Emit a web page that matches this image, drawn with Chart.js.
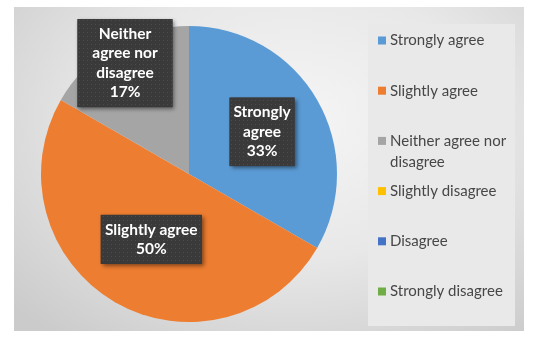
<!DOCTYPE html>
<html>
<head>
<meta charset="utf-8">
<script src="https://cdn.jsdelivr.net/npm/chart.js@4.4.0/dist/chart.umd.min.js"></script>
<style>
  html, body { margin: 0; padding: 0; background: #fff; }
  #wrap {
    position: absolute; left: 14px; top: 7px; width: 510px; height: 324px;
    background: radial-gradient(ellipse 75% 85% at 55% 35%, #f5f5f5 0%, #e8e8e8 50%, #cbcbcb 100%);
  }
  canvas { display: block; }
</style>
</head>
<body>
<div id="wrap"><canvas id="likertPie" width="510" height="324"></canvas></div>
<script>
// Survey responses
const responseLabels = ['Strongly agree', 'Slightly agree', 'Neither agree nor disagree', 'Slightly disagree', 'Disagree', 'Strongly disagree'];
const responseCounts = [2, 3, 1, 0, 0, 0];
const sliceColors = ['#5b9bd5', '#ed7d31', '#a5a5a5', '#ffc000', '#4472c4', '#70ad47'];

function wrapText(ctx, text, maxWidth) {
    const words = text.split(' ');
    const lines = [];
    let line = '';
    words.forEach(w => {
        const test = line ? line + ' ' + w : w;
        if (line && ctx.measureText(test).width > maxWidth) {
            lines.push(line);
            line = w;
        } else {
            line = test;
        }
    });
    if (line) lines.push(line);
    return lines;
}

// small dotted fill like the Excel label style
function dotPattern(ctx) {
    const c = document.createElement('canvas');
    c.width = 4; c.height = 4;
    const p = c.getContext('2d');
    p.fillStyle = '#3a3a3a';
    p.fillRect(0, 0, 4, 4);
    p.fillStyle = '#4c4c4c';
    p.fillRect(1, 1, 1, 1);
    return ctx.createPattern(c, 'repeat');
}

// dark callout boxes with category name and percent
const boxLabels = {
    id: 'boxLabels',
    afterDatasetsDraw(chart, args, opts) {
        const ctx = chart.ctx;
        const meta = chart.getDatasetMeta(0);
        const data = chart.data.datasets[0].data;
        const total = data.reduce((a, b) => a + b, 0);
        const pattern = dotPattern(ctx);
        ctx.save();
        ctx.font = opts.font;
        meta.data.forEach((arc, i) => {
            if (!data[i]) return;
            const p = arc.getProps(['x', 'y', 'startAngle', 'endAngle', 'outerRadius'], true);
            const mid = (p.startAngle + p.endAngle) / 2;
            const r = p.outerRadius * opts.radial[i];
            const cx = p.x + Math.cos(mid) * r;
            const cy = p.y + Math.sin(mid) * r;
            const w = opts.width[i];
            const lines = wrapText(ctx, chart.data.labels[i], opts.wrap[i]);
            lines.push(Math.round(data[i] / total * 100) + '%');
            const h = lines.length * opts.lineHeight + opts.padY * 2;
            const x0 = cx - w / 2, y0 = cy - h / 2;

            ctx.shadowColor = 'rgba(0,0,0,0.45)';
            ctx.shadowBlur = 4;
            ctx.shadowOffsetX = 2;
            ctx.shadowOffsetY = 2;
            ctx.fillStyle = '#3a3a3a';
            ctx.fillRect(x0, y0, w, h);
            ctx.shadowColor = 'transparent';
            ctx.fillStyle = pattern;
            ctx.fillRect(x0, y0, w, h);

            ctx.fillStyle = '#ffffff';
            ctx.textAlign = 'center';
            ctx.textBaseline = 'middle';
            lines.forEach((ln, k) => {
                ctx.fillText(ln, cx, y0 + opts.padY + opts.lineHeight * (k + 0.5));
            });
        });
        ctx.restore();
    }
};

// legend panel on the right
const sideLegend = {
    id: 'sideLegend',
    beforeDatasetsDraw(chart, args, opts) {
        const ctx = chart.ctx;
        const ds = chart.data.datasets[0];
        ctx.save();
        ctx.fillStyle = '#e9e9e9';
        ctx.fillRect(opts.x, opts.y, opts.w, opts.h);
        ctx.font = opts.font;
        ctx.textBaseline = 'middle';
        ctx.textAlign = 'left';
        chart.data.labels.forEach((lbl, i) => {
            const y = opts.firstY + i * opts.step;
            ctx.fillStyle = ds.backgroundColor[i];
            ctx.fillRect(opts.x + 10, y - 4, 8, 8);
            ctx.fillStyle = '#474747';
            const lines = wrapText(ctx, lbl, opts.w - 24);
            lines.forEach((ln, k) => ctx.fillText(ln, opts.x + 22, y + k * opts.lineHeight));
        });
        ctx.restore();
    }
};

const pieCtx = document.getElementById('likertPie').getContext('2d');
const likertChart = new Chart(pieCtx, {
    type: 'pie',
    data: {
        labels: responseLabels,
        datasets: [{
            data: responseCounts,
            backgroundColor: sliceColors,
            borderWidth: 0
        }]
    },
    options: {
        responsive: false,
        animation: false,
        layout: { padding: { left: 27, right: 187, top: 19, bottom: 9 } },
        plugins: {
            legend: { display: false },
            tooltip: { enabled: false },
            boxLabels: {
                font: 'bold 15.5px Lato',
                lineHeight: 19.5,
                padY: 5,
                radial: [0.57, 0.51, 0.865, 0.5, 0.5, 0.5],
                width: [65, 101, 95, 90, 90, 90],
                wrap: [58, 95, 75, 80, 80, 80]
            },
            sideLegend: {
                x: 354, y: 17, w: 147, h: 302,
                firstY: 33.5, step: 50.2, lineHeight: 21,
                font: '15px Lato'
            }
        }
    },
    plugins: [sideLegend, boxLabels]
});
</script>
</body>
</html>
